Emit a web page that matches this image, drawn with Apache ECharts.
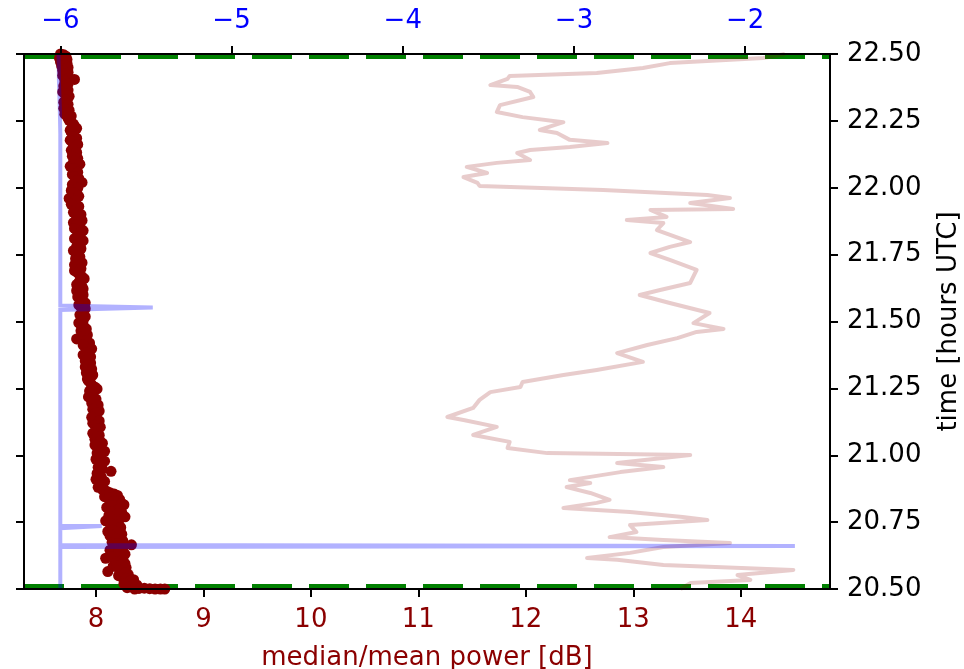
<!DOCTYPE html>
<html>
<head>
<meta charset="utf-8">
<script src="https://cdn.jsdelivr.net/npm/echarts@6/dist/echarts.min.js"></script>
<style>
html,body{margin:0;padding:0;background:#fff;}
#c{width:964px;height:669px;}
</style>
</head>
<body>
<div id="c"></div>
<script>
// ---- data ----
const powerTicks = [8, 9, 10, 11, 12, 13, 14];
const topTicks = [-6, -5, -4, -3, -2];
const timeBounds = [20.5, 22.5];

// dark red dots (median power, dB) vs time (hours UTC)
const medianTime = [22.500,22.492,22.484,22.475,22.465,22.455,22.445,22.432,22.420,22.405,22.395,22.380,22.365,22.350,22.335,22.320,22.305,22.290,22.275,22.260,22.245,22.230,22.215,22.200,22.185,22.170,22.155,22.140,22.125,22.110,22.095,22.080,22.065,22.050,22.035,22.020,22.005,21.990,21.975,21.960,21.945,21.930,21.915,21.900,21.885,21.870,21.855,21.840,21.825,21.810,21.795,21.780,21.765,21.750,21.735,21.720,21.705,21.690,21.675,21.660,21.645,21.630,21.615,21.600,21.585,21.570,21.555,21.540,21.525,21.510,21.495,21.480,21.465,21.450,21.435,21.420,21.405,21.390,21.375,21.360,21.345,21.330,21.315,21.300,21.285,21.270,21.255,21.240,21.225,21.210,21.195,21.180,21.165,21.150,21.135,21.120,21.105,21.090,21.075,21.060,21.045,21.030,21.015,21.000,20.985,20.970,20.955,20.940,20.925,20.910,20.895,20.880,20.865,20.855,20.845,20.835,20.825,20.815,20.805,20.795,20.785,20.775,20.765,20.755,20.745,20.735,20.725,20.715,20.705,20.695,20.685,20.675,20.665,20.655,20.645,20.635,20.625,20.615,20.605,20.595,20.585,20.575,20.565,20.555,20.545,20.535,20.525,20.515,20.508,20.503,20.500,20.500,20.502,
  22.497,22.488,22.479,22.470,22.460,22.450,22.438,22.426,22.412,22.400,22.388,22.372,22.358,22.342,22.328,22.312,22.297,22.282,22.268,22.252,22.238,22.222,22.208,22.192,22.178,22.162,22.148,22.132,22.118,22.102,22.088,22.072,22.058,22.042,22.028,22.012,
  21.998,21.982,21.968,21.952,21.938,21.922,21.908,21.892,21.878,21.862,21.848,21.832,21.818,21.802,21.788,21.772,21.758,21.742,21.728,21.712,21.698,21.682,21.668,21.652,21.638,21.622,21.608,21.592,21.578,21.562,21.548,21.532,21.518,21.502,
  21.488,21.472,21.458,21.442,21.428,21.412,21.398,21.382,21.368,21.352,21.338,21.322,21.308,21.292,21.278,21.262,21.248,21.232,21.218,21.202,21.188,21.172,21.158,21.142,21.128,21.112,21.098,21.082,21.068,21.052,21.038,21.022,21.008,
  20.992,20.978,20.962,20.948,20.932,20.918,20.902,20.888,20.872,20.860,20.850,20.840,20.830,20.820,20.810,20.800,20.790,20.780,20.770,20.760,20.750,20.740,20.730,20.720,20.710,20.700,20.690,20.680,20.670,20.660,20.650,20.640,20.630,20.620,20.610,20.600,20.590,20.580,20.570,20.560,20.550,20.540,20.530,20.520,20.512,20.505,20.501,20.500,20.500];
const medianPower = [7.67,7.72,7.66,7.70,7.73,7.68,7.71,7.74,7.69,7.80,7.72,7.70,7.74,7.71,7.73,7.70,7.72,7.75,7.71,7.74,7.77,7.80,7.76,7.79,7.82,7.78,7.81,7.77,7.80,7.83,7.79,7.76,7.81,7.78,7.84,7.87,7.80,7.77,7.81,7.75,7.79,7.84,7.80,7.86,7.82,7.79,7.85,7.88,7.83,7.80,7.86,7.82,7.79,7.84,7.81,7.87,7.83,7.80,7.85,7.89,7.84,7.87,7.82,7.88,7.85,7.90,7.86,7.88,7.85,7.87,7.84,7.89,7.86,7.92,7.82,7.94,7.90,7.93,7.88,7.92,7.95,7.90,7.93,7.97,7.92,7.95,7.99,7.94,7.97,8.00,7.96,7.99,8.03,7.98,8.01,7.97,8.04,8.00,8.03,7.99,8.06,8.02,8.08,8.03,8.00,8.05,8.02,8.14,8.03,8.00,8.05,8.02,8.10,8.17,8.08,8.22,8.13,8.26,8.10,8.19,8.24,8.12,8.17,8.09,8.21,8.14,8.19,8.11,8.24,8.17,8.21,8.15,8.33,8.20,8.13,8.24,8.18,8.09,8.22,8.27,8.16,8.25,8.11,8.30,8.24,8.35,8.29,8.38,8.32,8.45,8.55,8.64,8.40,
  7.70,7.68,7.73,7.67,7.71,7.74,7.69,7.72,7.75,7.71,7.74,7.72,7.69,7.75,7.72,7.74,7.70,7.73,7.77,7.75,7.79,7.82,7.77,7.80,7.76,7.83,7.79,7.82,7.78,7.81,7.85,7.80,7.83,7.80,7.82,7.78,
  7.83,7.79,7.84,7.81,7.77,7.82,7.79,7.84,7.87,7.82,7.80,7.86,7.84,7.88,7.83,7.86,7.81,7.85,7.83,7.80,7.86,7.83,7.87,7.85,7.82,7.88,7.86,7.83,7.87,7.84,7.90,7.87,7.90,7.88,
  7.86,7.91,7.88,7.86,7.91,7.88,7.96,7.91,7.95,7.90,7.93,7.96,7.91,7.95,7.93,7.96,8.01,7.95,7.93,7.98,8.02,7.97,8.00,7.96,8.03,7.99,8.02,7.97,8.01,8.04,7.99,8.05,8.01,
  8.04,8.08,8.03,8.06,8.01,8.05,8.08,8.03,8.06,8.13,8.20,8.12,8.17,8.24,8.15,8.22,8.14,8.20,8.27,8.15,8.12,8.18,8.23,8.16,8.20,8.13,8.19,8.25,8.20,8.26,8.17,8.21,8.27,8.15,8.25,8.19,8.23,8.28,8.22,8.27,8.21,8.28,8.32,8.26,8.34,8.29,8.50,8.36,8.60];

// light red line (mean power, dB) vs time
const meanTime = [22.500,22.485,22.466,22.448,22.429,22.418,22.407,22.384,22.377,22.358,22.339,22.309,22.283,22.264,22.245,22.216,22.205,22.179,22.167,22.152,22.141,22.130,22.104,22.093,22.078,22.055,22.040,22.018,22.007,21.992,21.973,21.962,21.943,21.921,21.917,21.891,21.879,21.868,21.842,21.797,21.779,21.756,21.730,21.693,21.644,21.618,21.599,21.569,21.532,21.494,21.472,21.461,21.438,21.412,21.382,21.349,21.319,21.300,21.274,21.255,21.236,21.207,21.177,21.143,21.132,21.106,21.076,21.050,21.027,21.008,21.001,20.971,20.956,20.937,20.907,20.896,20.881,20.859,20.833,20.822,20.803,20.788,20.769,20.758,20.739,20.713,20.694,20.683,20.672,20.657,20.635,20.616,20.609,20.590,20.571,20.552,20.534,20.522,20.500];
const meanPower = [14.41,14.21,13.34,13.09,12.66,11.85,11.83,11.67,11.92,12.04,12.07,11.76,11.73,11.97,12.35,12.13,12.29,12.41,12.76,12.41,12.04,11.92,12.04,11.73,11.45,11.64,11.42,11.55,11.57,12.72,13.69,13.90,13.53,13.93,13.16,13.31,12.94,13.28,13.22,13.53,13.34,13.16,13.34,13.59,13.53,13.25,13.06,13.34,13.71,13.56,13.84,13.59,13.41,13.13,12.85,13.09,12.66,12.35,11.97,11.95,11.67,11.57,11.51,11.27,11.42,11.73,11.51,11.85,11.83,12.20,13.53,12.85,13.28,12.88,12.41,12.60,12.38,12.60,12.78,12.66,12.35,12.97,13.46,13.69,12.97,13.03,12.78,13.28,13.90,13.28,12.97,12.57,12.85,13.28,14.49,13.97,14.09,13.53,13.44];

// blue line (top axis) vs time
const topTime = [22.500,22.400,22.300,22.200,21.560,21.552,21.543,20.7365,20.7355,20.7275,20.6645,20.661,20.657,20.500];
const topValue = [-6.01,-6.008,-6.003,-6.0,-6.0,-5.46,-6.0,-6.0,-5.758,-6.0,-6.0,-1.71,-6.0,-6.0];

// ---- build ----
const FONT = 'DejaVu Sans';
const FS = 26;
const pair = (xs, ys) => xs.map((x, i) => [x, ys[i]]);
const medianPts = pair(medianPower, medianTime);
const meanPts = pair(meanPower, meanTime);
const topPts = pair(topValue, topTime);
const xMin = 7.33, xMax = 14.831;

const axisCommon = {
  z: 10,
  axisLine: { show: true, onZero: false, lineStyle: { color: '#000', width: 2 } },
  axisTick: { show: true, inside: false, length: 8, lineStyle: { color: '#000', width: 2 } },
  splitLine: { show: false }
};

const chart = echarts.init(document.getElementById('c'), null, { renderer: 'canvas' });
chart.setOption({
  animation: false,
  backgroundColor: '#fff',
  grid: { left: 24, right: 134, top: 54, bottom: 80, containLabel: false, outerBoundsMode: 'none' },
  xAxis: [
    Object.assign({}, axisCommon, {
      type: 'value', position: 'bottom', min: xMin, max: xMax,
      axisTick: Object.assign({}, axisCommon.axisTick, { customValues: powerTicks }),
      axisLabel: { customValues: powerTicks, color: '#8B0000', fontSize: FS, fontFamily: FONT, margin: 18 },
      name: 'median/mean power [dB]', nameLocation: 'middle', nameGap: 56,
      nameTextStyle: { color: '#8B0000', fontSize: FS, fontFamily: FONT }
    }),
    Object.assign({}, axisCommon, {
      type: 'value', position: 'top', min: -6.212, max: -1.505,
      axisTick: Object.assign({}, axisCommon.axisTick, { customValues: topTicks }),
      axisLabel: { customValues: topTicks, color: '#0000FF', fontSize: FS, fontFamily: FONT, margin: 20,
        formatter: v => String(v).replace('-', '\u2212') }
    })
  ],
  yAxis: [
    Object.assign({}, axisCommon, {
      type: 'value', position: 'right', min: 20.5, max: 22.5, interval: 0.25,
      axisLabel: { color: '#000', fontSize: FS, fontFamily: FONT, margin: 17, formatter: v => v.toFixed(2) },
      name: 'time [hours UTC]', nameLocation: 'middle', nameRotate: 90, nameGap: 106,
      nameTextStyle: { color: '#000', fontSize: FS, fontFamily: FONT }
    }),
    Object.assign({}, axisCommon, {
      type: 'value', position: 'left', min: 20.5, max: 22.5, interval: 0.25,
      axisLabel: { show: false }
    })
  ],
  series: [
    {
      type: 'custom', xAxisIndex: 0, yAxisIndex: 0, clip: true, silent: true, z: 1,
      data: timeBounds.map(t => [xMin, t, xMax]),
      encode: { x: [0, 2], y: 1 },
      renderItem: (params, api) => {
        const p1 = api.coord([api.value(0), api.value(1)]);
        const p2 = api.coord([api.value(2), api.value(1)]);
        return {
          type: 'line',
          shape: { x1: p1[0], y1: p1[1], x2: p2[0], y2: p2[1] },
          style: { stroke: '#008000', lineWidth: 10, lineDash: [40, 17], lineCap: 'butt' }
        };
      }
    },
    {
      type: 'scatter', xAxisIndex: 0, yAxisIndex: 0, data: medianPts, symbol: 'circle', symbolSize: 11,
      itemStyle: { color: '#8B0000', opacity: 1 }, z: 2, silent: true
    },
    {
      type: 'line', xAxisIndex: 0, yAxisIndex: 0, data: meanPts, symbol: 'none', showSymbol: false,
      lineStyle: { color: 'rgba(139,0,0,0.2)', width: 4, join: 'round' }, z: 3, silent: true
    },
    {
      type: 'line', xAxisIndex: 1, yAxisIndex: 0, data: topPts, symbol: 'none', showSymbol: false,
      lineStyle: { color: 'rgba(0,0,255,0.3)', width: 4, join: 'miter' }, z: 4, silent: true
    }
  ]
});
</script>
</body>
</html>
